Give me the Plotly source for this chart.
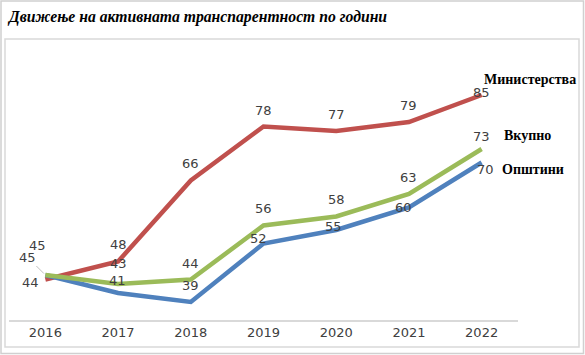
import plotly.graph_objects as go

years = ["2016", "2017", "2018", "2019", "2020", "2021", "2022"]
ministerstva = [44, 48, 66, 78, 77, 79, 85]
vkupno = [45, 43, 44, 56, 58, 63, 73]
opshtini = [45, 41, 39, 52, 55, 60, 70]
title_text = "Движење на активната транспарентност по години"

series = [
    ("Министерства", ministerstva, "#C0504D"),
    ("Општини", opshtini, "#4F81BD"),
    ("Вкупно", vkupno, "#9BBB59"),
]

W, H = 585, 355
L, R, T, B = 9, 67, 50, 35
PW, PH = W - L - R, H - T - B

fig = go.Figure()
for name, vals, col in series:
    fig.add_trace(go.Scatter(x=years, y=vals, mode="lines", name=name,
                             line=dict(color=col, width=4.5), showlegend=False))

lab_font = dict(family="DejaVu Sans", size=13, color="#404040")
# label offsets (xshift, yshift) per series/point; default (0, 17)
offsets = {
    "Министерства": {0: (-15, -3), 3: (0, 16), 6: (0, 3)},
    "Вкупно": {0: (-8, 30), 1: (0, 21), 2: (0, 16), 6: (0, 13)},
    "Општини": {1: (-1, 13), 3: (-5, 5), 4: (-3, 4), 5: (-5, 0), 6: (4, -7)},
}
for name, vals, col in series:
    for i, v in enumerate(vals):
        if name == "Општини" and i == 0:
            fig.add_annotation(x=i, y=v, text=str(v), showarrow=True, ax=-18, ay=-18,
                               arrowhead=0, arrowwidth=1, arrowcolor="#bfbfbf",
                               standoff=2, font=lab_font)
            continue
        xs, ys = offsets.get(name, {}).get(i, (0, 17))
        fig.add_annotation(x=i, y=v, text=str(v), showarrow=False,
                           xshift=xs, yshift=ys, font=lab_font)

name_font = dict(family="Liberation Serif", size=14, color="#000000")
name_pos = {"Министерства": (0, 16), "Вкупно": (20, 14), "Општини": (18, -7)}
for name, vals, col in series:
    xs, ys = name_pos[name]
    fig.add_annotation(x=len(vals) - 1, y=vals[-1], text="<b>" + name + "</b>",
                       showarrow=False, xanchor="left", xshift=xs, yshift=ys,
                       font=name_font)

def px_x(p):
    return (p - L) / PW

def px_y(p):
    return (H - B - p) / PH

# outer border and chart-area border
fig.add_shape(type="rect", xref="paper", yref="paper",
              x0=px_x(1), x1=px_x(583.5), y0=px_y(353.5), y1=px_y(1),
              line=dict(color="#d0d0d0", width=1.5), layer="below")
fig.add_shape(type="rect", xref="paper", yref="paper",
              x0=px_x(5), x1=px_x(579), y0=px_y(347), y1=px_y(39),
              line=dict(color="#d9d9d9", width=1.5), layer="below")

fig.add_annotation(xref="paper", yref="paper", x=px_x(5), y=px_y(17),
                   xanchor="left", yanchor="middle", showarrow=False,
                   text="<b><i>" + title_text + "</i></b>",
                   font=dict(family="Liberation Serif", size=15.7, color="#000000"))

fig.update_layout(
    width=W, height=H,
    margin=dict(l=L, r=R, t=T, b=B),
    paper_bgcolor="white", plot_bgcolor="white",
    xaxis=dict(type="category", range=[-0.5, 6.5], showgrid=False, zeroline=False,
               showline=True, linecolor="#d9d9d9", linewidth=1.5, ticks="",
               tickfont=dict(family="DejaVu Sans", size=13, color="#404040")),
    yaxis=dict(range=[35, 95], visible=False, showgrid=False, zeroline=False),
)

fig.write_html("out.html", config={"displayModeBar": False},
               post_script="document.body.style.margin='0';document.body.style.overflow='hidden';")
